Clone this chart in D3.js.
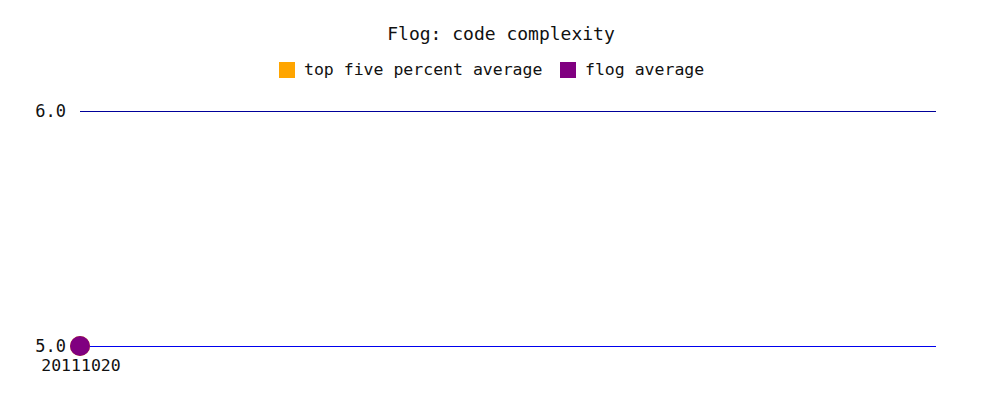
<!DOCTYPE html>
<html><head><meta charset="utf-8">
<script src="https://cdn.jsdelivr.net/npm/d3@7"></script>
<style>body{margin:0;background:#fff}svg{display:block}text{font-family:"DejaVu Sans Mono",monospace;fill:#111}</style>
</head><body><svg id="c" width="1000" height="400"></svg>
<script>
const title = "Flog: code complexity";
const dates = ["20111020"];
const topFivePercentAverage = [5.0];
const flogAverage = [5.0];
const yTicks = [5.0, 6.0];
const seriesNames = ["top five percent average", "flog average"];
const seriesColors = ["#ffa500", "#800080"];

const svg = d3.select("#c");
const x = d3.scalePoint().domain(dates).range([80, 936]).align(0).padding(0);
const y = d3.scaleLinear().domain([5, 6]).range([346, 111]);

svg.append("text").attr("x", 501).attr("y", 40).attr("text-anchor", "middle")
  .style("font-size", "18px").text(title);

// legend
const leg = svg.append("g");
const legX = [279, 560];
seriesNames.forEach((n, i) => {
  leg.append("rect").attr("x", legX[i]).attr("y", 62).attr("width", 16).attr("height", 16).attr("fill", seriesColors[i]);
  leg.append("text").attr("x", legX[i] + 25).attr("y", 75).style("font-size", "16.5px").text(n);
});

// grid / axis lines
const gridColors = ["#0000ee", "#000099"];
yTicks.forEach((t, i) => {
  svg.append("line").attr("x1", 80).attr("x2", 936).attr("y1", y(t) + 0.5).attr("y2", y(t) + 0.5)
    .attr("stroke", gridColors[i]).attr("stroke-width", 1);
  svg.append("text").attr("x", 66).attr("y", y(t) + 6).attr("text-anchor", "end")
    .style("font-size", "17px").text(t.toFixed(1));
});

// x labels
dates.forEach(d => {
  svg.append("text").attr("x", x(d) + 1).attr("y", 371).attr("text-anchor", "middle")
    .style("font-size", "16.5px").text(d);
});

// points
[topFivePercentAverage, flogAverage].forEach((s, si) => {
  svg.selectAll(null).data(s).enter().append("circle")
    .attr("cx", (v, i) => x(dates[i])).attr("cy", v => y(v)).attr("r", 10)
    .attr("fill", seriesColors[si]);
});
</script></body></html>
